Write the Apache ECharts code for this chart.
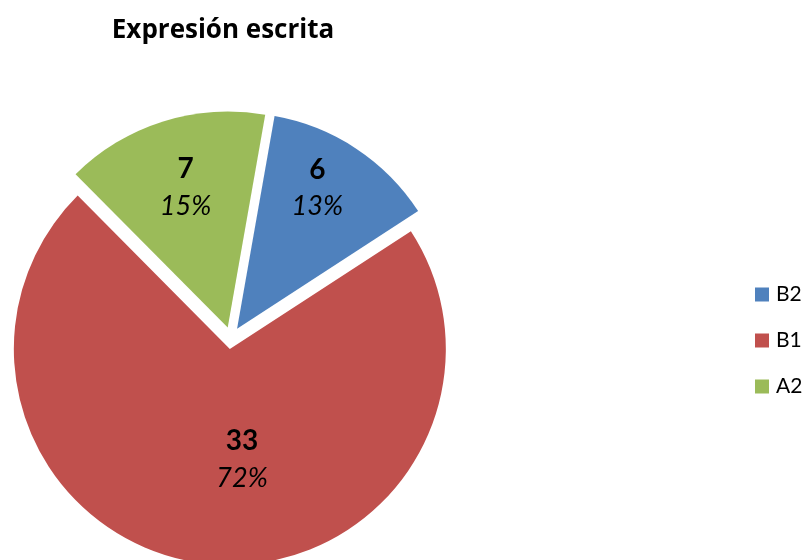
<!DOCTYPE html>
<html>
<head>
<meta charset="utf-8">
<script src="https://cdn.jsdelivr.net/npm/echarts@6/dist/echarts.min.js"></script>
<style>html,body{margin:0;padding:0;background:#fff;}#c{width:804px;height:560px;}</style>
</head>
<body>
<div id="c"></div>
<script>
var categories = ['B2', 'B1', 'A2'];
var values = [6, 33, 7];
var colors = ['#4F81BD', '#C0504D', '#9BBB59'];
var titleText = 'Expresión escrita';

// label nudges (pixels) away from the default inside position
var labelShift = [[19, -48], [24, 0], [-9, -34]];

var FONT = 'Lato, "Liberation Sans", sans-serif';
var chart = echarts.init(document.getElementById('c'), null, {renderer: 'canvas'});
var data = categories.map(function (name, i) {
  return {
    name: name,
    value: values[i],
    selected: true,
    itemStyle: {color: colors[i]}
  };
});
chart.setOption({
  animation: false,
  title: {
    text: titleText,
    left: 218, top: 13,
    textAlign: 'center',
    textStyle: {fontFamily: '"Open Sans", sans-serif', fontWeight: 'bold', fontSize: 26, color: '#000'}
  },
  legend: {
    orient: 'vertical',
    left: 755, top: 284,
    padding: 0,
    itemWidth: 14, itemHeight: 14, itemGap: 25,
    icon: 'rect',
    selectedMode: false,
    textStyle: {fontFamily: FONT, fontSize: 21, color: '#000', padding: [0, 0, 0, 2]},
    data: categories
  },
  series: [{
    type: 'pie',
    center: [231, 338],
    radius: [0, 216],
    startAngle: 80,
    clockwise: true,
    selectedMode: 'multiple',
    selectedOffset: 11,
    percentPrecision: 0,
    avoidLabelOverlap: false,
    itemStyle: {borderWidth: 0},
    emphasis: {disabled: true},
    label: {
      show: true,
      position: 'inside',
      formatter: '{a|{c}}\n{b|{d}%}',
      rich: {
        a: {fontFamily: FONT, fontWeight: 'bold', fontSize: 28, color: '#000', lineHeight: 37, align: 'center'},
        b: {fontFamily: FONT, fontStyle: 'italic', fontSize: 27, color: '#000', lineHeight: 37, align: 'center'}
      }
    },
    labelLayout: function (params) {
      var s = labelShift[params.dataIndex] || [0, 0];
      return {dx: s[0], dy: s[1]};
    },
    labelLine: {show: false},
    data: data
  }]
});
</script>
</body>
</html>
